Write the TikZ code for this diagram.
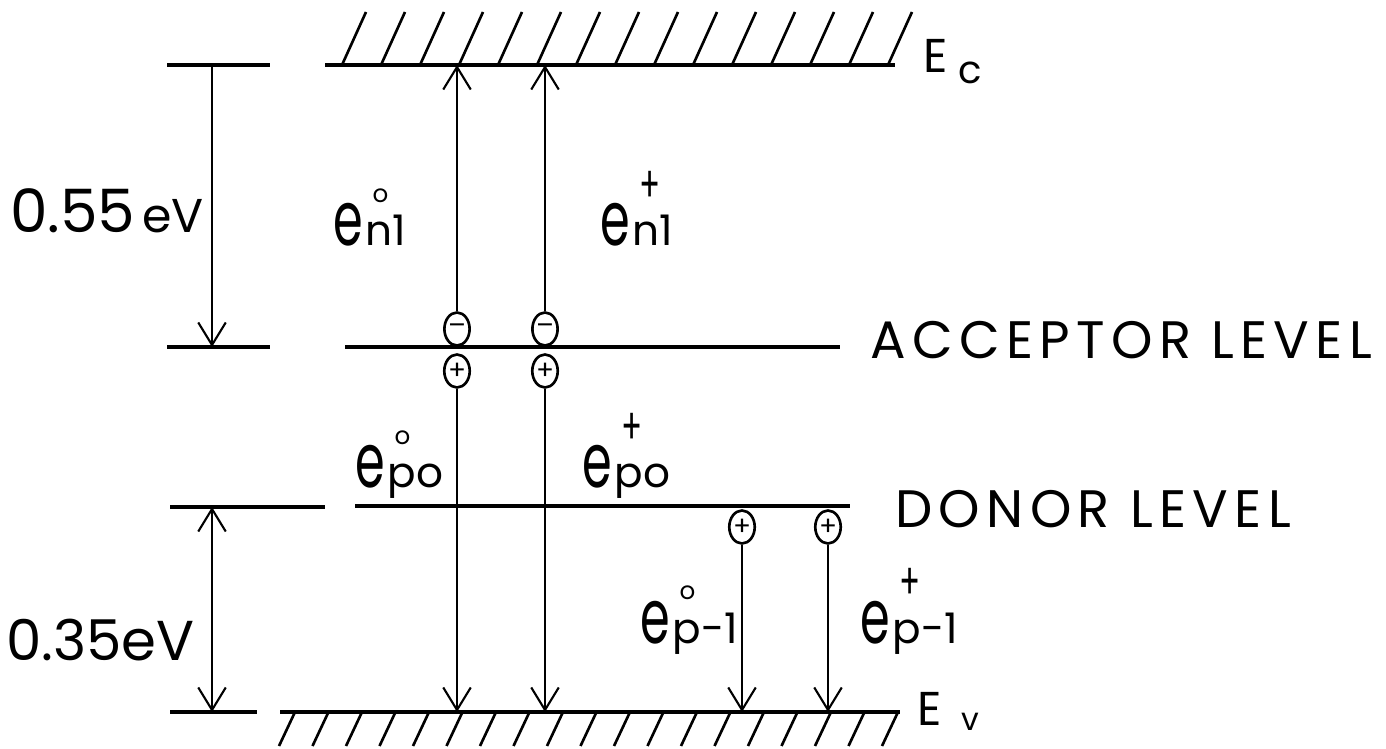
\documentclass[tikz,border=0pt]{standalone}
\usepackage{graphicx}
\usepackage{fontspec}
\setmainfont{Poppins}
\newfontfamily\spacedfont[LetterSpace=12]{Poppins}
\usetikzlibrary{arrows.meta,positioning,calc,shapes.geometric}

\newcommand{\erate}[2]{%
  \scalebox{0.85}[1.35]{\fontsize{32}{32}\selectfont e}%
  \kern1.5pt\rlap{\kern4pt\raisebox{25pt}{#1}}%
  {\fontsize{24}{24}\selectfont #2}}
\newcommand{\supzero}{\fontsize{14}{14}\selectfont o}
\newcommand{\supplus}{\scalebox{0.8}[1.3]{\fontsize{22}{22}\selectfont +}}

\begin{document}
\begin{tikzpicture}[
    x=0.02cm,y=-0.02cm,
    bandline/.style={line width=2.2pt},
    hatch/.style={line width=1.5pt},
    emitarrow/.style={line width=1.2pt,-{Straight Barb[length=4.5mm,width=5.5mm]}},
    dimarrow/.style={line width=1.2pt},
    charge/.style={draw,ellipse,line width=1.5pt,fill=white,inner sep=0pt,minimum width=0.5cm,minimum height=0.66cm,font=\fontsize{15}{15}\selectfont},
    rate/.style={anchor=base west,inner sep=0pt},
    levelname/.style={anchor=base west,inner sep=0pt,font=\spacedfont\fontsize{30}{30}\selectfont},
    >={Straight Barb[length=4.5mm,width=5.5mm]}
]
\useasboundingbox (0,0) rectangle (1386,749);

% band edges
\coordinate (ecw) at (325,65);
\coordinate (ece) at (895,65);
\coordinate (evw) at (280,712);
\coordinate (eve) at (900,712);
\draw[bandline] (ecw) -- (ece);
\draw[bandline] (evw) -- (eve);
\foreach \i in {0,...,14} \draw[hatch] (342+39*\i,65) -- ++(24,-53);
\foreach \i in {0,...,18} \draw[hatch] (295+33.5*\i,712) -- ++(-16,34);
\node[rate,font=\fontsize{27}{27}\selectfont] (eclabel) at (923,73) {E\kern6pt\raisebox{-6pt}{\fontsize{22}{22}\selectfont c}};
\node[rate,font=\fontsize{27}{27}\selectfont] (evlabel) at (917,725) {E\kern11pt\raisebox{-3pt}{\fontsize{18}{18}\selectfont v}};

% impurity levels
\draw[bandline] (345,347) -- (840,347);
\draw[bandline] (355,506) -- (850,506);
\node[levelname] (acclabel) at (870,359) {ACCEPTOR LEVEL};
\node[levelname] (donlabel) at (895,528) {DONOR LEVEL};

% energy gaps
\coordinate (gaptop) at (212,65);
\coordinate (gapacc) at (212,347);
\coordinate (gapdon) at (212,507);
\coordinate (gapval) at (212,712);
\draw[bandline] (167,65) -- (270,65);
\draw[bandline] (167,347) -- (270,347);
\draw[bandline] (170,507) -- (325,507);
\draw[bandline] (170,712) -- (257,712);
\draw[dimarrow,->] (gaptop) -- (gapacc);
\draw[dimarrow,<->] (gapdon) -- (gapval);
\node[rate,font=\fontsize{34}{34}\selectfont] (accgap) at (10,233) {0.55\kern4pt{\fontsize{27}{27}\selectfont eV}};
\node[rate,font=\fontsize{32}{32}\selectfont] (dongap) at (6,660) {0.35eV};

% charged centres
\node[charge] (am1) at (457,329) {–};
\node[charge] (ap1) at (457,371) {+};
\node[charge] (am2) at (545,329) {–};
\node[charge] (ap2) at (545,371) {+};
\node[charge] (dp1) at (742,527) {+};
\node[charge] (dp2) at (828,527) {+};

\draw[emitarrow] (am1) -- (am1 |- ecw);
\draw[emitarrow] (am2) -- (am2 |- ecw);
\draw[emitarrow] (ap1) -- (ap1 |- evw);
\draw[emitarrow] (ap2) -- (ap2 |- evw);
\draw[emitarrow] (dp1) -- (dp1 |- evw);
\draw[emitarrow] (dp2) -- (dp2 |- evw);

% emission rates
\node[rate] (en1zero) at (333,246) {\erate{\supzero}{n1}};
\node[rate] (en1plus) at (600,246) {\erate{\supplus}{n1}};
\node[rate] (epozero) at (355,488) {\erate{\supzero}{po}};
\node[rate] (epoplus) at (582,488) {\erate{\supplus}{po}};
\node[rate] (epmzero) at (640,643) {\erate{\supzero}{p-1}};
\node[rate] (epmplus) at (860,643) {\erate{\supplus}{p-1}};
\end{tikzpicture}
\end{document}
